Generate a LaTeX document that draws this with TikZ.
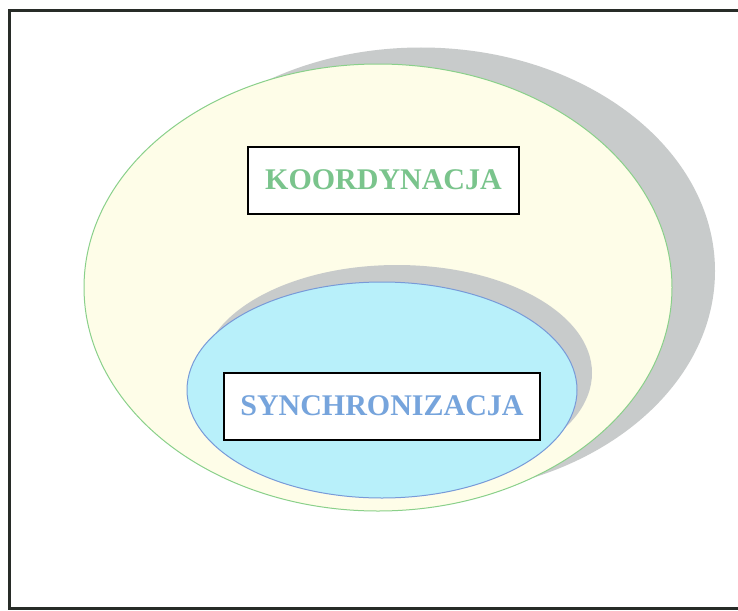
\documentclass[tikz,border=0pt]{standalone}
\usepackage{fontspec}
\setmainfont{Liberation Serif}
\usetikzlibrary{shapes.geometric}

\definecolor{frameink}{RGB}{40,44,40}
\definecolor{shadowgrey}{RGB}{200,203,203}
\definecolor{outerfill}{RGB}{254,253,232}
\definecolor{outerline}{RGB}{138,208,138}
\definecolor{innerfill}{RGB}{184,240,250}
\definecolor{innerline}{RGB}{120,154,216}
\definecolor{coordgreen}{RGB}{122,196,140}
\definecolor{syncblue}{RGB}{118,164,220}

\tikzset{
  blob/.style={ellipse, inner sep=0pt, outer sep=0pt},
  shade blob/.style={blob, fill=shadowgrey},
  labelbox/.style={draw=black, line width=2pt, fill=white, inner sep=0pt,
    minimum height=67pt, font=\bfseries\fontsize{30}{36}\selectfont},
}

\begin{document}
\begin{tikzpicture}[x=1pt, y=-1pt]
  \useasboundingbox (0,0) rectangle (738,610);
  \fill[white] (0,0) rectangle (738,610);

  % outer frame (right side runs off the page)
  \draw[frameink, line width=3pt] (745,11) -- (9,11) -- (9,608) -- (745,608);

  % outer set with its drop shadow
  \node[shade blob, minimum width=588pt, minimum height=447pt] (outershadow) at (421,271) {};
  \node[blob, fill=outerfill, draw=outerline, line width=1pt,
        minimum width=588pt, minimum height=447pt] (outer) at (378,287.5) {};

  % inner set with its drop shadow
  \node[shade blob, minimum width=390pt, minimum height=216pt] (innershadow) at (397,373) {};
  \node[blob, fill=innerfill, draw=innerline, line width=1pt,
        minimum width=390pt, minimum height=216pt] (inner) at (382,390) {};

  % labels
  \node[labelbox, minimum width=271pt, text=coordgreen] (koord) at (383.5,180) {KOORDYNACJA};
  \node[labelbox, minimum width=316pt, text=syncblue] (sync) at (382,406) {SYNCHRONIZACJA};
\end{tikzpicture}
\end{document}
